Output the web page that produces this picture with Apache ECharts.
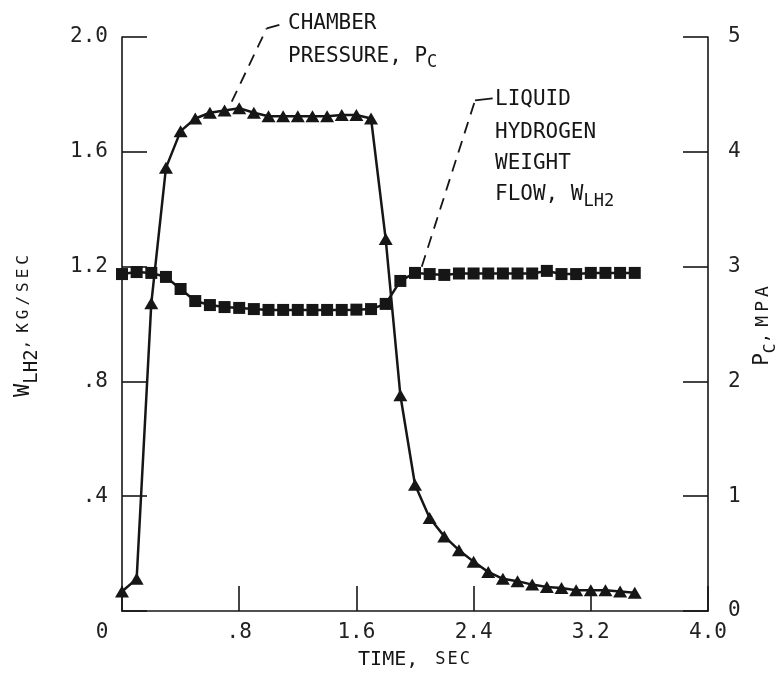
<!DOCTYPE html>
<html><head><meta charset="utf-8">
<script src="https://cdn.jsdelivr.net/npm/echarts@6/dist/echarts.min.js"></script>
<style>html,body{margin:0;padding:0;background:#fff}#c{width:784px;height:674px}</style>
</head><body><div id="c"></div>
<script>
// time, sec
const time = [0.0,0.1,0.2,0.3,0.4,0.5,0.6,0.7,0.8,0.9,1.0,1.1,1.2,1.3,1.4,1.5,1.6,1.7,1.8,1.9,
              2.0,2.1,2.2,2.3,2.4,2.5,2.6,2.7,2.8,2.9,3.0,3.1,3.2,3.3,3.4,3.5];
// liquid hydrogen weight flow, kg/sec (left axis)
const flowLH2 = [1.174,1.181,1.178,1.164,1.122,1.080,1.066,1.059,1.056,1.052,1.049,1.049,1.049,1.049,1.049,1.049,1.050,1.052,1.070,1.150,
                 1.178,1.174,1.171,1.176,1.176,1.176,1.176,1.176,1.176,1.185,1.174,1.174,1.178,1.178,1.178,1.178];
// chamber pressure, MPa (right axis)
const pressureMPa = [0.17,0.28,2.68,3.86,4.18,4.29,4.34,4.36,4.38,4.34,4.31,4.31,4.31,4.31,4.31,4.32,4.32,4.29,3.24,1.88,
                     1.10,0.81,0.65,0.53,0.43,0.34,0.28,0.26,0.23,0.21,0.20,0.18,0.18,0.18,0.17,0.16];
const xTickLabels = ['0','.8','1.6','2.4','3.2','4.0'];
const leftTickLabels = ['','.4','.8','1.2','1.6','2.0'];
const rightTickLabels = ['0','1','2','3','4','5'];
// annotation anchors in data units (time, MPa)
const pcLeader = [[0.749,4.437],[0.988,5.076]];
const pcHook = [[0.988,5.076],[1.074,5.105]];
const pcTextAt = [[1.133,5.113],[1.133,4.834]];
const flowLeader = [[2.046,2.999],[2.410,4.448]];
const flowHook = [[2.410,4.448],[2.530,4.466]];
const flowTextAt = [[2.546,4.451],[2.546,4.172],[2.546,3.902],[2.546,3.624]];

const FONT = "'DejaVu Sans Mono', monospace";
const INK = '#161616';
const chart = echarts.init(document.getElementById('c'));
const pts = (xs, ys) => xs.map((t, i) => [t, ys[i]]);
const spaced = (s, key) => s.split('').map(ch => '{' + key + '|' + ch + '}').join('');

chart.setOption({
  animation: false,
  backgroundColor: '#fff',
  grid: { left: 122, right: 76, top: 37, bottom: 63, containLabel: false, outerBoundsMode: 'none' },
  xAxis: {
    type: 'value', min: 0, max: 4, interval: 0.8,
    axisLine: { show: true, lineStyle: { color: INK, width: 1.6 } },
    axisTick: { show: true, inside: true, length: 25, lineStyle: { color: INK, width: 1.6 } },
    splitLine: { show: false },
    name: '{a|TIME,}{g| }' + spaced('SEC', 'k'), nameLocation: 'middle', nameGap: 39,
    nameTextStyle: { rich: {
      a: { fontFamily: FONT, fontSize: 20, color: INK },
      g: { fontFamily: FONT, fontSize: 17, color: INK, width: 17 },
      k: { fontFamily: FONT, fontSize: 17, color: INK, padding: [0, 2, 0, 0] }
    } },
    axisLabel: {
      margin: 11, fontFamily: FONT, fontSize: 21, color: '#222',
      formatter: (v, i) => i === 0 ? '{z|0}' : xTickLabels[i],
      rich: { z: { fontFamily: FONT, fontSize: 21, color: '#222', padding: [0, 40, 0, 0] } }
    }
  },
  yAxis: [{
    type: 'value', min: 0, max: 2, interval: 0.4, position: 'left',
    axisLine: { show: true, lineStyle: { color: INK, width: 1.6 } },
    axisTick: { show: true, inside: true, length: 25, lineStyle: { color: INK, width: 1.6 } },
    splitLine: { show: false },
    axisLabel: { margin: 14, fontFamily: FONT, fontSize: 21, color: '#222',
      formatter: (v, i) => leftTickLabels[i] },
    name: '{w|W}{s|LH2}{c|,}{g| }' + spaced('KG/SEC', 'k'), nameLocation: 'middle', nameRotate: 90, nameGap: 80,
    nameTextStyle: { rich: {
      w: { fontFamily: FONT, fontSize: 22, color: INK },
      s: { fontFamily: FONT, fontSize: 19, color: INK, padding: [18, 0, 0, 0] },
      c: { fontFamily: FONT, fontSize: 16, color: INK },
      g: { fontFamily: FONT, fontSize: 16, color: INK, width: 7 },
      k: { fontFamily: FONT, fontSize: 16, color: INK, padding: [0, 4, 0, 0] }
    } }
  }, {
    type: 'value', min: 0, max: 5, interval: 1, position: 'right',
    axisLine: { show: true, lineStyle: { color: INK, width: 1.6 } },
    axisTick: { show: true, inside: true, length: 25, lineStyle: { color: INK, width: 1.6 } },
    splitLine: { show: false },
    axisLabel: { margin: 20, fontFamily: FONT, fontSize: 21, color: '#222',
      formatter: (v, i) => rightTickLabels[i] },
    name: '{p|P}{s|C}{c|,}{g| }' + spaced('MPA', 'k'), nameLocation: 'middle', nameRotate: 90, nameGap: 39,
    nameTextStyle: { rich: {
      p: { fontFamily: FONT, fontSize: 21, color: INK },
      s: { fontFamily: FONT, fontSize: 16, color: INK, padding: [16, 0, 0, 0] },
      c: { fontFamily: FONT, fontSize: 18, color: INK },
      g: { fontFamily: FONT, fontSize: 18, color: INK, width: 6 },
      k: { fontFamily: FONT, fontSize: 18, color: INK, padding: [0, 4, 0, 0] }
    } }
  }],
  series: [{
    name: 'W_LH2', type: 'line', yAxisIndex: 0, data: pts(time, flowLH2),
    symbol: 'rect', symbolSize: 12, showSymbol: true,
    lineStyle: { color: INK, width: 2.5 }, itemStyle: { color: INK }, z: 3
  }, {
    name: 'P_C', type: 'line', yAxisIndex: 1, data: pts(time, pressureMPa),
    symbol: 'triangle', symbolSize: [14, 12], showSymbol: true,
    lineStyle: { color: INK, width: 2.5 }, itemStyle: { color: INK }, z: 4
  }]
});

function px(p) { return chart.convertToPixel({ xAxisIndex: 0, yAxisIndex: 1 }, p); }
const dashLine = (a) => ({ type: 'polyline', shape: { points: a.map(px) }, style: { stroke: INK, lineWidth: 1.8, lineDash: [12, 8], fill: null }, silent: true });
const solidLine = (a) => ({ type: 'polyline', shape: { points: a.map(px) }, style: { stroke: INK, lineWidth: 1.8, fill: null }, silent: true });
const annRich = {
  n: { fontFamily: FONT, fontSize: 21, fill: INK, color: INK },
  s: { fontFamily: FONT, fontSize: 17, fill: INK, color: INK, padding: [14, 0, 0, 0] }
};
const txt = (p, s) => {
  const q = px(p);
  return { type: 'text', x: q[0], y: q[1], silent: true,
    style: { text: s, rich: annRich, verticalAlign: 'middle', align: 'left', fill: INK, font: '21px ' + FONT } };
};
chart.setOption({ graphic: [
  dashLine(pcLeader), solidLine(pcHook),
  txt(pcTextAt[0], '{n|CHAMBER}'),
  txt(pcTextAt[1], '{n|PRESSURE, P}{s|C}'),
  dashLine(flowLeader), solidLine(flowHook),
  txt(flowTextAt[0], '{n|LIQUID}'),
  txt(flowTextAt[1], '{n|HYDROGEN}'),
  txt(flowTextAt[2], '{n|WEIGHT}'),
  txt(flowTextAt[3], '{n|FLOW, W}{s|LH2}')
] });
</script></body></html>
